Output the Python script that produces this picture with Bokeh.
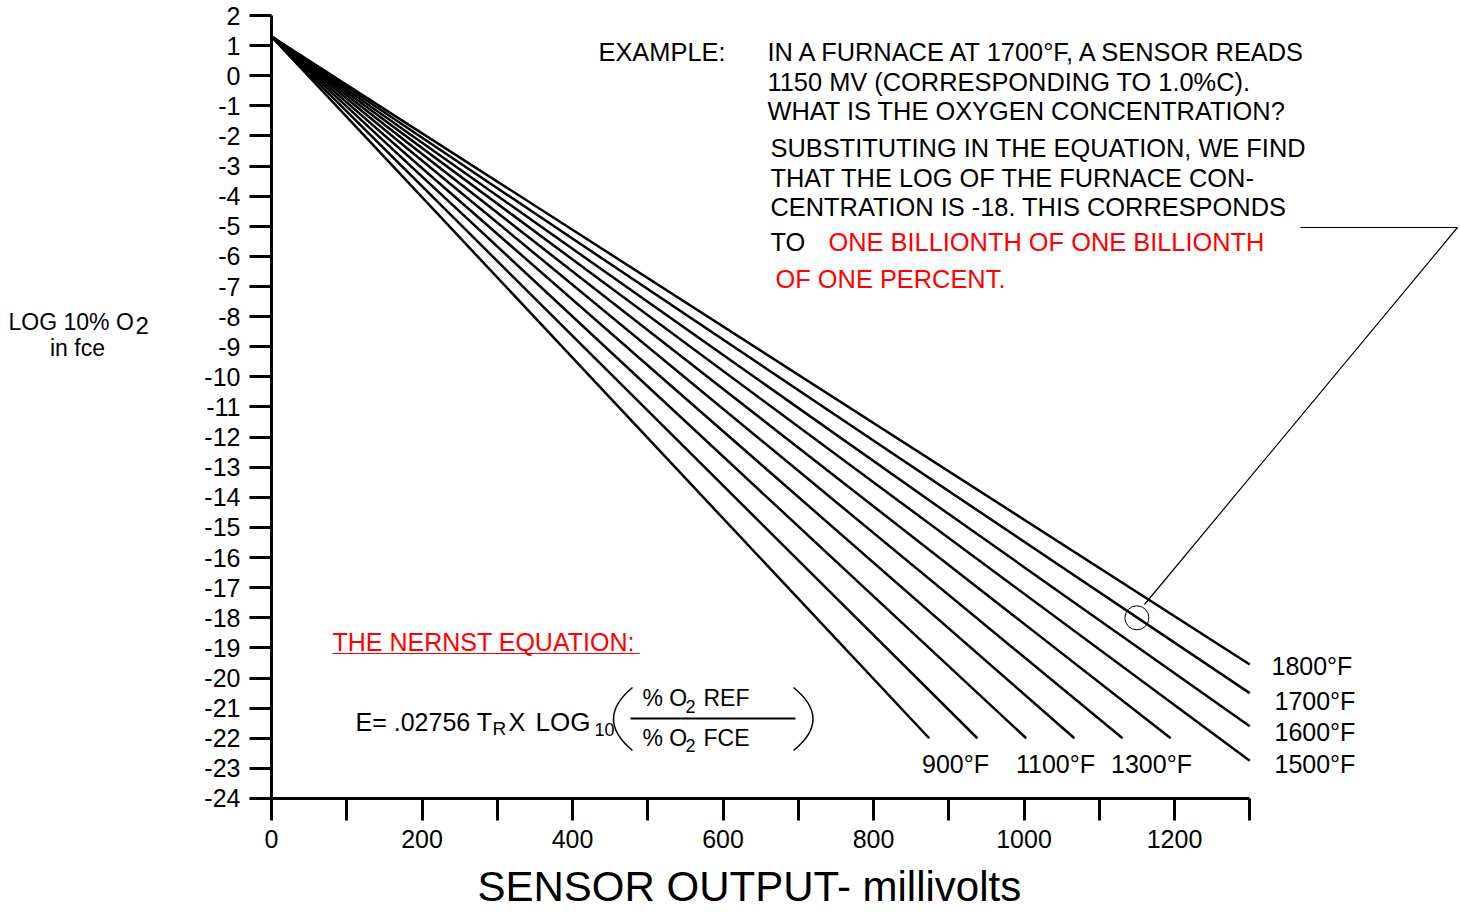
from bokeh.plotting import figure
from bokeh.models import Range1d, FixedTicker, Label, LinearAxis, ColumnDataSource
from bokeh.embed import file_html
from bokeh.resources import INLINE

# ---------------- data ----------------
temps_f = [900, 1000, 1100, 1200, 1300, 1400, 1500, 1600, 1700, 1800]
start_mv = [0, 0, 0, 0, 0, 0, 0, 0, 0, 0]
start_log = [1.3, 1.3, 1.3, 1.3, 1.3, 1.3, 1.3, 1.3, 1.3, 1.3]
end_mv = [874, 938, 1003, 1067, 1131, 1195, 1300, 1300, 1300, 1300]
end_log = [-22.0, -22.0, -22.0, -22.0, -22.0, -22.0, -22.75, -21.6, -20.5, -19.55]

labeled_temps = ["900°F", "1100°F", "1300°F", "1500°F", "1600°F", "1700°F", "1800°F"]

x_ticks = [0, 100, 200, 300, 400, 500, 600, 700, 800, 900, 1000, 1100, 1200, 1300]
x_tick_labels = ["0", "", "200", "", "400", "", "600", "", "800", "", "1000", "", "1200", ""]
y_ticks = [-24, -23, -22, -21, -20, -19, -18, -17, -16, -15, -14, -13, -12, -11, -10,
           -9, -8, -7, -6, -5, -4, -3, -2, -1, 0, 1, 2]
y_tick_labels = [str(v) for v in y_ticks]

example_mv = [1150]
example_log = [-18]

x_title = "SENSOR OUTPUT- millivolts"
example_lines = [
    "IN A FURNACE AT 1700°F, A SENSOR READS",
    "1150 MV (CORRESPONDING TO 1.0%C).",
    "WHAT IS THE OXYGEN CONCENTRATION?",
    "SUBSTITUTING IN THE EQUATION, WE FIND",
    "THAT THE LOG OF THE FURNACE CON-",
    "CENTRATION IS -18. THIS CORRESPONDS",
]

# ---------------- layout helpers (canvas pixel -> data) ----------------
W, H = 1458, 912
PX0, PXS = 271.0, 0.7525      # pixel x of 0 mV, px per mV
PY2, PYS = 15.0, 30.115       # pixel y of log=2, px per decade


def X(px):
    return (px - PX0) / PXS


def Y(py):
    return 2 - (py - PY2) / PYS


FONT = "Liberation Sans"
RED = "#ff0000"

p = figure(width=W, height=H,
           x_range=Range1d(X(0), X(W)), y_range=Range1d(Y(H), Y(0)),
           output_backend="svg", toolbar_location=None,
           x_axis_type=None, y_axis_type=None,
           min_border_left=0, min_border_right=0,
           min_border_top=0, min_border_bottom=0,
           outline_line_color=None, background_fill_color="white",
           border_fill_color="white")

axis_style = dict(major_tick_out=22, major_tick_in=0,
                  minor_tick_out=0, minor_tick_in=0,
                  axis_line_width=3, major_tick_line_width=3,
                  axis_line_color="black", major_tick_line_color="black",
                  major_label_text_font=FONT, major_label_text_font_size="25px",
                  major_label_text_color="black")

yaxis = LinearAxis(ticker=FixedTicker(ticks=y_ticks, minor_ticks=[]),
                   bounds=(-24, 2), fixed_location=0,
                   major_label_overrides={t: l for t, l in zip(y_ticks, y_tick_labels)},
                   major_label_standoff=9, **axis_style)
p.add_layout(yaxis, "left")

xaxis = LinearAxis(ticker=FixedTicker(ticks=x_ticks, minor_ticks=[]),
                   bounds=(0, 1300), fixed_location=-24,
                   major_label_overrides={t: l for t, l in zip(x_ticks, x_tick_labels)},
                   major_label_standoff=10, **axis_style)
p.add_layout(xaxis, "below")

# temperature lines
src = ColumnDataSource(dict(x0=start_mv, y0=start_log, x1=end_mv, y1=end_log, t=temps_f))
p.segment(x0="x0", y0="y0", x1="x1", y1="y1", source=src,
          line_color="black", line_width=2.5)

# example point marker
p.scatter(x=example_mv, y=example_log, size=24, marker="circle",
          fill_alpha=0, line_color="black", line_width=1)

# leader line from the text to the marker
p.line(x=[X(1300), X(1457), X(1144)], y=[Y(227), Y(227), Y(604)],
       line_color="black", line_width=1.2)


def lab(text, px, py, size=25, color="black", align="left"):
    p.add_layout(Label(x=X(px), y=Y(py), text=text, text_font=FONT,
                       text_font_size=f"{size}px", text_color=color,
                       text_align=align, text_baseline="middle"))


# temperature labels (x, cap-centre y, alignment)
temp_label_pos = [(955, 763, "center"), (1055, 763, "center"), (1151, 763, "center"),
                  (1274, 763, "left"), (1274, 731, "left"), (1274, 700, "left"),
                  (1271, 665, "left")]
for txt, (px, py, al) in zip(labeled_temps, temp_label_pos):
    lab(txt, px, py, 25, align=al)

# example block
EX = 25.4
lab("EXAMPLE:", 598, 51, EX)
ex_pos = [(767, 51), (767, 81), (767, 110), (770, 147.5), (770, 177), (770, 206)]
for txt, (px, py) in zip(example_lines, ex_pos):
    lab(txt, px, py, EX)
lab("TO", 770, 241, EX)
lab("ONE BILLIONTH OF ONE BILLIONTH", 828, 241, EX, color=RED)
lab("OF ONE PERCENT.", 775, 278, EX, color=RED)

# Nernst equation
lab("THE NERNST EQUATION:", 332, 641, color=RED)
p.line(x=[X(332), X(639)], y=[Y(653), Y(653)], line_color=RED, line_width=1.2)
lab("E= .02756 T", 355, 721)
lab("R", 492, 727.5, 19)
lab("X", 508, 721)
lab("LOG", 535, 721, 26)
lab("10", 594, 728.5, 18)
lab("% O", 642, 697.5, 23)
lab("2", 685, 706, 18)
lab("REF", 703, 697.5, 23)
lab("% O", 642, 737, 23)
lab("2", 685, 744.5, 18)
lab("FCE", 703, 737, 23)
p.line(x=[X(630), X(795)], y=[Y(718), Y(718)], line_color="black", line_width=2)
p.quadratic(x0=[X(632), X(793)], y0=[Y(687), Y(687)],
            x1=[X(632), X(793)], y1=[Y(750), Y(750)],
            cx=[X(594), X(832)], cy=[Y(718.5), Y(718.5)],
            line_color="black", line_width=1.5)

# axis titles
lab("LOG 10% O", 8, 321, 23)
lab("2", 135, 325, 24)
lab("in fce", 77, 347, 23, align="center")
lab(x_title, 477, 886, 42)

open("out.html", "w").write(file_html(p, INLINE))
